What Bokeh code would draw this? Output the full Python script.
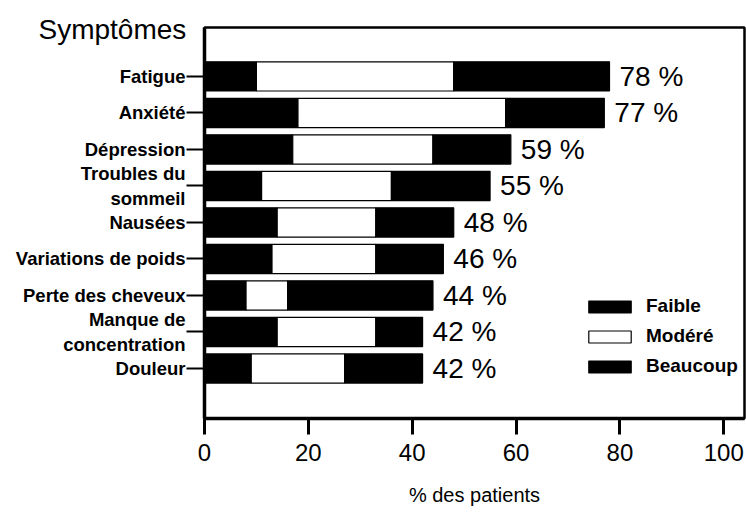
from bokeh.plotting import figure
from bokeh.models import Range1d, FixedTicker, Title, ColumnDataSource
from bokeh.embed import file_html
from bokeh.resources import INLINE
from bokeh.core.properties import value

# ---- data ----
categories = ["Fatigue", "Anxiété", "Dépression", "Troubles du\nsommeil", "Nausées",
              "Variations de poids", "Perte des cheveux", "Manque de\nconcentration", "Douleur"]
faible = [10, 18, 17, 11, 14, 13, 8, 14, 9]
modere = [38, 40, 27, 25, 19, 20, 8, 19, 18]
beaucoup = [30, 19, 15, 19, 15, 13, 28, 9, 15]
totals = [78, 77, 59, 55, 48, 46, 44, 42, 42]
x_ticks = [0, 20, 40, 60, 80, 100]
series_names = ["Faible", "Modéré", "Beaucoup"]
series_colors = ["black", "white", "black"]

FONT = "Liberation Sans"
n = len(categories)
ypos = [n - 1 - i for i in range(n)]

src = ColumnDataSource(dict(
    y=ypos, faible=faible, modere=modere, beaucoup=beaucoup,
    total=totals, label=[f"{t} %" for t in totals],
))

p = figure(width=746, height=515, output_backend="svg", toolbar_location=None,
           x_range=Range1d(0, 104), y_range=Range1d(-1.37, n - 1 + 1.34),
           min_border_left=204, min_border_right=2, min_border_top=27, min_border_bottom=97)

p.hbar_stack(["faible", "modere", "beaucoup"], y="y", height=0.8, source=src,
             fill_color=series_colors, line_color="black", line_width=1.2,
             legend_label=series_names)

p.text(x="total", y="y", text="label", source=src, x_offset=10,
       text_baseline="middle", text_align="left",
       text_font=value(FONT), text_font_size="28px", text_color="black")

# axes
p.xgrid.visible = False
p.ygrid.visible = False
p.outline_line_color = "black"
p.outline_line_width = 2.5
p.background_fill_color = "white"
p.border_fill_color = "white"

xa = p.xaxis[0]
xa.ticker = FixedTicker(ticks=x_ticks)
xa.minor_tick_line_color = None
xa.major_tick_in = 0
xa.major_tick_out = 16
xa.major_tick_line_width = 3
xa.axis_line_width = 3.5
xa.major_label_standoff = 9
xa.major_label_text_font = FONT
xa.major_label_text_font_size = "24px"
xa.major_label_text_color = "black"
xa.axis_label = "% des patients"
xa.axis_label_text_font = FONT
xa.axis_label_text_font_size = "20px"
xa.axis_label_text_font_style = "normal"
xa.axis_label_text_color = "black"
xa.axis_label_standoff = 20

ya = p.yaxis[0]
ya.ticker = FixedTicker(ticks=ypos)
ya.major_label_overrides = {y: c for y, c in zip(ypos, categories)}
ya.minor_tick_line_color = None
ya.major_tick_in = 0
ya.major_tick_out = 18
ya.major_tick_line_width = 2
ya.axis_line_width = 3.5
ya.major_label_standoff = 1
ya.major_label_text_font = FONT
ya.major_label_text_font_size = "18.5px"
ya.major_label_text_font_style = "bold"
ya.major_label_text_color = "black"

# legend
lg = p.legend[0]
lg.location = (379, 41)
lg.padding = 0
lg.margin = 0
lg.spacing = 8
lg.glyph_width = 53
lg.glyph_height = 15
lg.label_height = 15
lg.label_standoff = 10
lg.label_text_font = FONT
lg.label_text_font_size = "19px"
lg.label_text_font_style = "bold"
lg.label_text_color = "black"
lg.border_line_alpha = 0
lg.background_fill_alpha = 0

# "Symptômes" header, placed as a left-shifted title above the frame
p.add_layout(Title(text="Symptômes", align="left", offset=-166, standoff=-34,
                   text_font=FONT, text_font_size="28px", text_font_style="normal",
                   text_color="black"), "above")

open("out.html", "w").write(file_html(p, INLINE))
